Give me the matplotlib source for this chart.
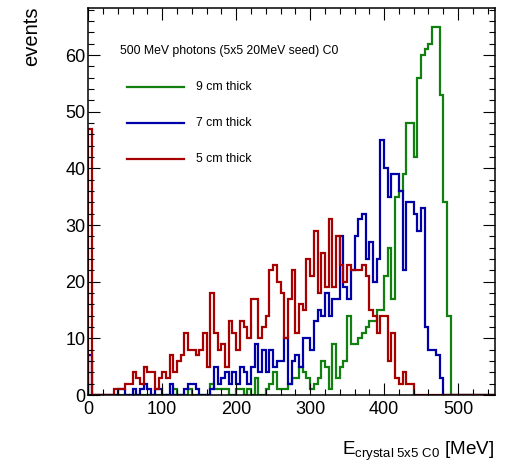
import numpy as np
import matplotlib
matplotlib.use("Agg")
import matplotlib.pyplot as plt
from matplotlib.lines import Line2D
from matplotlib.ticker import MultipleLocator

plt.rcParams['font.family'] = ['Liberation Sans', 'DejaVu Sans']
plt.rcParams['mathtext.fontset'] = 'custom'
plt.rcParams['mathtext.rm'] = 'Liberation Sans'
plt.rcParams['mathtext.it'] = 'Liberation Sans:italic'

# 5 MeV bins from 0 to 550 MeV
bin_edges = np.arange(0, 555, 5)

# 9 cm thick crystal
counts_9cm = [
    0, 0, 0, 0, 0, 0, 0, 0, 0, 0,
    0, 0, 0, 0, 0, 0, 0, 0, 0, 0,
    0, 0, 0, 1, 0, 0, 0, 1, 0, 0,
    0, 0, 0, 2, 1, 1, 1, 1, 0, 0,
    1, 1, 0, 1, 0, 3, 0, 0, 1, 2,
    4, 1, 1, 1, 2, 3, 3, 5, 4, 3,
    1, 2, 3, 6, 5, 1, 9, 3, 5, 6,
    14, 9, 9, 10, 11, 12, 13, 13, 15, 15,
    21, 26, 17, 35, 36, 39, 48, 48, 42, 56,
    60, 61, 62, 65, 65, 53, 34, 14, 0, 0,
    0, 0, 0, 0, 0, 0, 0, 0, 0, 0,
]

# 7 cm thick crystal
counts_7cm = [
    7, 0, 0, 0, 0, 0, 0, 0, 1, 1,
    0, 0, 1, 0, 1, 2, 1, 0, 1, 1,
    0, 0, 2, 0, 0, 0, 1, 2, 2, 1,
    0, 0, 0, 1, 5, 2, 3, 4, 2, 4,
    2, 5, 4, 2, 5, 9, 4, 8, 4, 8,
    5, 6, 6, 10, 2, 6, 7, 5, 10, 10,
    8, 13, 15, 14, 18, 14, 17, 17, 28, 19,
    17, 22, 28, 31, 32, 24, 27, 20, 24, 45,
    40, 35, 39, 39, 36, 22, 34, 34, 32, 29,
    33, 12, 8, 8, 7, 3, 0, 0, 0, 0,
    0, 0, 0, 0, 0, 0, 0, 0, 0, 0,
]

# 5 cm thick crystal
counts_5cm = [
    47, 0, 0, 0, 0, 0, 0, 1, 1, 1,
    2, 2, 4, 3, 2, 5, 4, 4, 1, 3,
    4, 3, 7, 4, 6, 7, 11, 8, 8, 7,
    8, 11, 5, 18, 11, 8, 9, 5, 13, 11,
    8, 13, 12, 10, 17, 17, 10, 12, 14, 22,
    23, 20, 18, 10, 17, 22, 11, 16, 15, 24,
    21, 29, 18, 25, 19, 31, 19, 28, 23, 20,
    23, 22, 22, 22, 23, 21, 15, 14, 11, 14,
    14, 6, 11, 3, 2, 4, 2, 2, 0, 0,
    0, 0, 0, 0, 0, 0, 0, 0, 0, 0,
    0, 0, 0, 0, 0, 0, 0, 0, 0, 0,
]

series_labels = ["9 cm thick", "7 cm thick", "5 cm thick"]
series_colors = ["#118011", "#0000a6", "#a60000"]
series_counts = [counts_9cm, counts_7cm, counts_5cm]
legend_title = "500 MeV photons (5x5 20MeV seed) C0"

W, H = 511, 465
fig = plt.figure(figsize=(W / 100, H / 100), dpi=100)
ax = fig.add_axes([88.3 / W, 1 - 395 / H, (495 - 88.3) / W, (395 - 8.3) / H])

for counts, color in zip(series_counts, series_colors):
    ax.stairs(counts, bin_edges, baseline=0, color=color, linewidth=1.6)

ax.set_xlim(0, 550)
ax.set_ylim(0, 68.25)
ax.xaxis.set_major_locator(MultipleLocator(100))
ax.xaxis.set_minor_locator(MultipleLocator(20))
ax.yaxis.set_major_locator(MultipleLocator(10))
ax.yaxis.set_minor_locator(MultipleLocator(2))
ax.tick_params(which='both', direction='in', top=True, right=True,
               width=0.8, labelsize=13)
ax.tick_params(which='major', length=8.6)
ax.tick_params(which='minor', length=4.6)
ax.tick_params(axis='x', pad=4)
ax.tick_params(axis='y', pad=2)
for sp in ax.spines.values():
    sp.set_linewidth(1.1)

fig.text(31.7 / W, 1 - 6.0 / H, "events", rotation=90, ha='center', va='top',
         fontsize=14.5)
fig.text(494 / W, 1 - 455 / H, r"E$_{\mathrm{crystal\ 5x5\ C0}}$ [MeV]",
         ha='right', va='baseline', fontsize=13.6)

# legend block
fig.text(120 / W, 1 - 50.7 / H, legend_title, ha='left', va='center',
         fontsize=8.8)
for k, (label, color) in enumerate(zip(series_labels, series_colors)):
    y = 1 - (86.7 + 36.3 * k) / H
    fig.add_artist(Line2D([127 / W, 184 / W], [y, y], color=color,
                          linewidth=1.6, transform=fig.transFigure))
    fig.text(195.7 / W, y, label, ha='left', va='center', fontsize=8.8)

fig.savefig("out.png", dpi=100)
